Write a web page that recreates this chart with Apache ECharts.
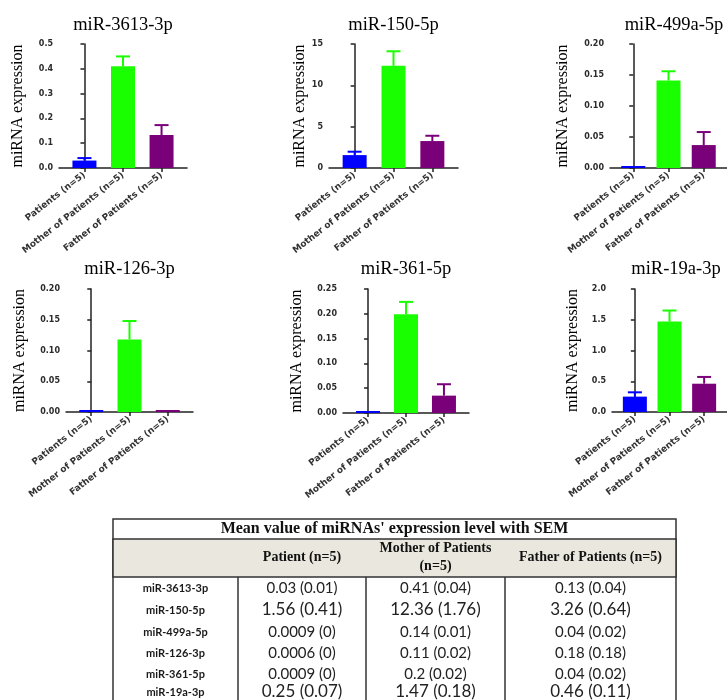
<!DOCTYPE html>
<html>
<head>
<meta charset="utf-8">
<script src="https://cdn.jsdelivr.net/npm/echarts@6/dist/echarts.min.js"></script>
<style>html,body{margin:0;padding:0;background:#fff}#c{width:727px;height:700px}</style>
</head>
<body>
<div id="c"></div>
<script>
// ---------- DATA ----------
const categories = ['Patients (n=5)', 'Mother of Patients (n=5)', 'Father of Patients (n=5)'];
const panelTitles = ['miR-3613-3p', 'miR-150-5p', 'miR-499a-5p', 'miR-126-3p', 'miR-361-5p', 'miR-19a-3p'];

const mean3613 = [0.03, 0.41, 0.133];   const sem3613 = [0.01, 0.04, 0.04];
const mean150  = [1.56, 12.36, 3.26];   const sem150  = [0.41, 1.76, 0.64];
const mean499a = [0.0009, 0.141, 0.037]; const sem499a = [0, 0.015, 0.021];
const mean126  = [0.0006, 0.118, 0.003]; const sem126  = [0, 0.03, 0];
const mean361  = [0.0009, 0.199, 0.035]; const sem361  = [0, 0.025, 0.023];
const mean19a  = [0.25, 1.47, 0.46];    const sem19a  = [0.07, 0.18, 0.11];

const yMaxes    = [0.5, 15, 0.20, 0.20, 0.25, 2.0];
const ySteps    = [0.1, 5, 0.05, 0.05, 0.05, 0.5];
const yDecimals = [1, 0, 2, 2, 2, 1];

// table
const tableTitle = "Mean value of miRNAs' expression level with SEM";
const tableHeaders = ['Patient (n=5)', 'Mother of Patients\n(n=5)', 'Father of Patients (n=5)'];
const tableRowNames = ['miR-3613-3p', 'miR-150-5p', 'miR-499a-5p', 'miR-126-3p', 'miR-361-5p', 'miR-19a-3p'];
const tablePatient = ['0.03 (0.01)', '1.56 (0.41)', '0.0009 (0)', '0.0006 (0)', '0.0009 (0)', '0.25 (0.07)'];
const tableMother  = ['0.41 (0.04)', '12.36 (1.76)', '0.14 (0.01)', '0.11 (0.02)', '0.2 (0.02)', '1.47 (0.18)'];
const tableFather  = ['0.13 (0.04)', '3.26 (0.64)', '0.04 (0.02)', '0.18 (0.18)', '0.04 (0.02)', '0.46 (0.11)'];

// ---------- STYLE / LAYOUT ----------
const barColors = ['#0000ff', '#1aff00', '#7a007a'];
const means = [mean3613, mean150, mean499a, mean126, mean361, mean19a];
const sems  = [sem3613, sem150, sem499a, sem126, sem361, sem19a];
const grids = [
  {left: 59,  top: 44,  width: 128, height: 124},
  {left: 329, top: 44,  width: 129, height: 124},
  {left: 610, top: 44,  width: 128, height: 124},
  {left: 66,  top: 289, width: 127, height: 123},
  {left: 343, top: 289, width: 126, height: 124},
  {left: 612, top: 289, width: 128, height: 123}
];
const nameGaps = [33, 18, 39, 38, 38, 31];
const titleY = [25, 25, 25, 269, 269, 269];

const axisColor = '#222';
const option = {
  animation: false,
  grid: grids,
  xAxis: grids.map((g, i) => ({
    type: 'value', gridIndex: i, min: -0.66, max: 2.66,
    splitLine: {show: false},
    axisLine: {show: true, onZero: false, lineStyle: {color: axisColor, width: 1.5}},
    axisTick: {show: true, customValues: [0, 1, 2], length: 4, lineStyle: {color: axisColor, width: 1.5}},
    axisLabel: {
      show: true, customValues: [0, 1, 2], rotate: 38, margin: 6,
      formatter: v => categories[Math.round(v)] || '',
      fontFamily: 'DejaVu Sans', fontWeight: 'bold', fontSize: 9, color: '#333'
    }
  })),
  yAxis: grids.map((g, i) => ({
    type: 'value', gridIndex: i, min: 0, max: yMaxes[i], interval: ySteps[i],
    name: 'miRNA expression', nameLocation: 'middle', nameGap: nameGaps[i],
    nameTextStyle: {fontFamily: 'Liberation Serif', fontSize: 16, color: '#000'},
    splitLine: {show: false},
    axisLine: {show: true, lineStyle: {color: axisColor, width: 1.5}},
    axisTick: {show: true, length: 4, lineStyle: {color: axisColor, width: 1.5}},
    axisLabel: {
      margin: 6, formatter: v => Number(v).toFixed(yDecimals[i]),
      fontFamily: 'DejaVu Sans', fontWeight: 'bold', fontSize: 8, color: '#2b2b2b'
    }
  })),
  series: [],
  graphic: []
};

means.forEach((m, i) => {
  option.series.push({
    type: 'bar', xAxisIndex: i, yAxisIndex: i, barWidth: 24, barMinHeight: 2,
    data: m.map((v, k) => ({value: [k, v], itemStyle: {color: barColors[k]}})),
    z: 2
  });
  option.series.push({
    type: 'custom', xAxisIndex: i, yAxisIndex: i, z: 3,
    data: m.map((v, k) => [k, v, sems[i][k]]),
    renderItem: (params, api) => {
      const k = api.value(0), mv = api.value(1), e = api.value(2);
      if (!e) return null;
      const b = api.coord([k, mv]);
      const t = api.coord([k, mv + e]);
      const c = barColors[k];
      return {
        type: 'group', children: [
          {type: 'line', shape: {x1: b[0], y1: b[1], x2: t[0], y2: t[1]}, style: {stroke: c, lineWidth: 2}},
          {type: 'line', shape: {x1: t[0] - 7, y1: t[1], x2: t[0] + 7, y2: t[1]}, style: {stroke: c, lineWidth: 2}}
        ]
      };
    }
  });
  const g = grids[i];
  option.graphic.push({
    type: 'text', x: g.left + g.width / 2, y: titleY[i],
    style: {text: panelTitles[i], font: '18.5px "Liberation Serif"', fill: '#000', textAlign: 'center', textVerticalAlign: 'middle'}
  });
});

// ---------- TABLE ----------
const tL = 113, tR = 676, tTop = 519, tTitleB = 539, tHeadB = 577, tBottom = 730;
const colLines = [238, 366, 505];
const colCenters = [175.5, 302, 435.5, 590.5];
const rowY = [588, 610, 632, 653, 674, 692];
const bigRows = [1, 5];
const border = '#333';
option.graphic.push(
  {type: 'rect', shape: {x: tL, y: tTop, width: tR - tL, height: tBottom - tTop}, style: {fill: '#fff', stroke: border, lineWidth: 1.5}, z: -10},
  {type: 'rect', shape: {x: tL, y: tTitleB, width: tR - tL, height: tHeadB - tTitleB}, style: {fill: '#eae7de', stroke: border, lineWidth: 1.5}, z: -9}
);
colLines.forEach(x => option.graphic.push({type: 'line', shape: {x1: x, y1: tHeadB, x2: x, y2: tBottom}, style: {stroke: border, lineWidth: 1.5}, z: -8}));
option.graphic.push({type: 'text', x: (tL + tR) / 2, y: 529,
  style: {text: tableTitle, font: 'bold 16px "Liberation Serif"', fill: '#111', textAlign: 'center', textVerticalAlign: 'middle'}});
tableHeaders.forEach((h, j) => option.graphic.push({type: 'text', x: colCenters[j + 1], y: 557,
  style: {text: h, font: 'bold 14px "Liberation Serif"', fill: '#111', textAlign: 'center', textVerticalAlign: 'middle', lineHeight: 18}}));
tableRowNames.forEach((n, r) => {
  option.graphic.push({type: 'text', x: colCenters[0], y: rowY[r],
    style: {text: n, font: 'bold 11px Lato', fill: '#1a1a1a', textAlign: 'center', textVerticalAlign: 'middle'}});
  const fs = bigRows.includes(r) ? 17 : 15;
  [tablePatient, tableMother, tableFather].forEach((arr, j) => option.graphic.push({type: 'text', x: colCenters[j + 1], y: rowY[r],
    style: {text: arr[r], font: fs + 'px Lato', fill: '#222', textAlign: 'center', textVerticalAlign: 'middle'}}));
});

const chart = echarts.init(document.getElementById('c'), null, {renderer: 'canvas'});
chart.setOption(option);
</script>
</body>
</html>
